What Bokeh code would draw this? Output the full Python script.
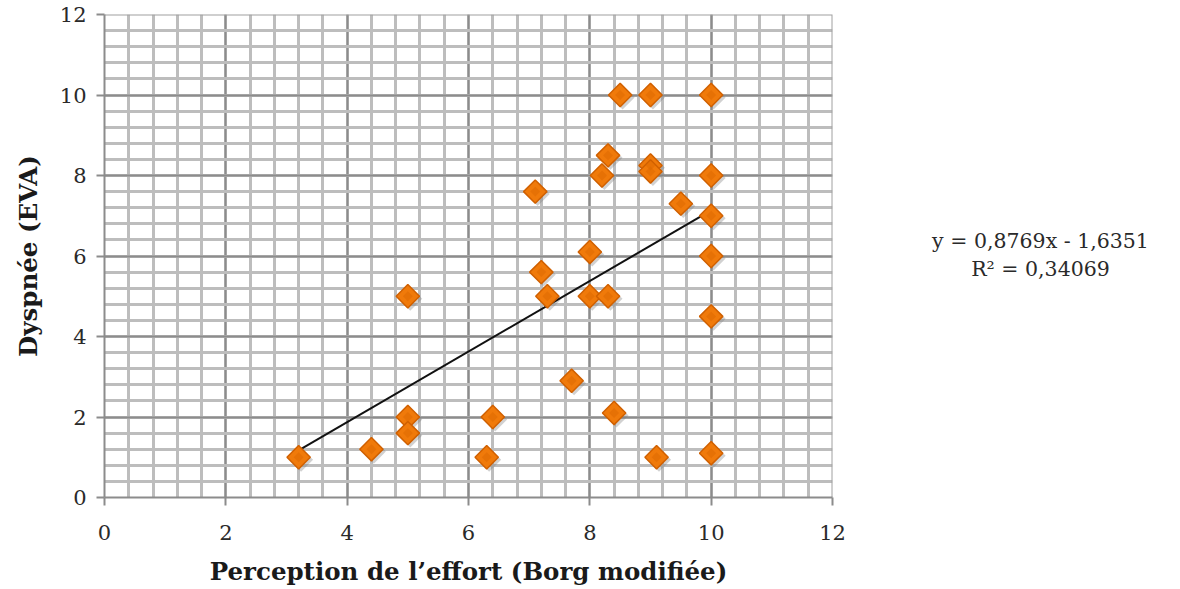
from bokeh.plotting import figure
from bokeh.models import Range1d, SingleIntervalTicker, ColumnDataSource
from bokeh.layouts import row
from bokeh.embed import file_html
from bokeh.resources import INLINE
from bokeh.transform import dodge
from bokeh.core.properties import value
import numpy as np

# Data
borg = [3.2, 4.4, 5.0, 5.0, 5.0, 6.3, 6.4, 7.1, 7.2, 7.3, 7.7, 8.0, 8.0, 8.2, 8.3,
        8.3, 8.4, 8.5, 9.0, 9.0, 9.0, 9.1, 9.5, 10.0, 10.0, 10.0, 10.0, 10.0, 10.0]
eva = [1.0, 1.2, 5.0, 2.0, 1.6, 1.0, 2.0, 7.6, 5.6, 5.0, 2.9, 6.1, 5.0, 8.0, 8.5,
       5.0, 2.1, 10.0, 10.0, 8.25, 8.1, 1.0, 7.3, 10.0, 8.0, 7.0, 6.0, 4.5, 1.1]

slope = 0.8769
intercept = -1.6351
eq_lines = ["y = 0,8769x - 1,6351", "R² = 0,34069"]

x_title = "Perception de l\u2019effort (Borg modifiée)"
y_title = "Dyspnée (EVA)"

FONT = "DejaVu Serif"
H = 588
TOP, BOTTOM = 14, 86

p = figure(width=852, height=H, output_backend="svg", toolbar_location=None,
           x_range=Range1d(0, 12), y_range=Range1d(0, 12),
           min_border_left=104, min_border_right=20, min_border_top=TOP,
           min_border_bottom=BOTTOM)
p.outline_line_color = None
p.background_fill_color = "white"

for ax in (p.xaxis[0], p.yaxis[0]):
    ax.ticker = SingleIntervalTicker(interval=2, num_minor_ticks=5)
    ax.axis_line_color = "#8c8c8c"
    ax.axis_line_width = 2
    ax.major_tick_line_color = "#8c8c8c"
    ax.major_tick_line_width = 2
    ax.major_tick_out = 8
    ax.major_tick_in = 0
    ax.minor_tick_line_color = None
    ax.major_label_text_font = FONT
    ax.major_label_text_font_size = "21px"
    ax.major_label_text_color = "#2a2a2a"
    ax.axis_label_text_font = FONT
    ax.axis_label_text_font_style = "bold"
    ax.axis_label_text_font_size = "24.5px"
    ax.axis_label_text_color = "#1a1a1a"

p.xaxis.axis_label = x_title
p.yaxis.axis_label = y_title
p.xaxis.major_label_standoff = 19
p.yaxis.major_label_standoff = 10
p.xaxis.axis_label_standoff = 14
p.yaxis.axis_label_standoff = 14

for g in (p.xgrid[0], p.ygrid[0]):
    g.ticker = SingleIntervalTicker(interval=2, num_minor_ticks=5)
    g.grid_line_color = "#8c8c8c"
    g.grid_line_width = 2
    g.minor_grid_line_color = "#bdbdbd"
    g.minor_grid_line_width = 3

# frame border on the top/right (grid at 12)
p.line(x=[0, 12, 12], y=[12, 12, 0], line_color="#a0a0a0", line_width=2)

src = ColumnDataSource(dict(x=borg, y=eva))

# soft shadow
p.scatter(x=dodge("x", 0.04, range=p.x_range), y=dodge("y", -0.06, range=p.y_range),
          source=src, marker="square", size=17, angle=np.pi / 4,
          fill_color="#7a7a7a", fill_alpha=0.35, line_color=None)

# trend line
xs = np.array([min(borg), max(borg)])
p.line(x=xs, y=slope * xs + intercept, line_color="#111111", line_width=2)

p.scatter(x="x", y="y", source=src, marker="square", size=16.5, angle=np.pi / 4,
          fill_color="#F07A0A", line_color="#D06000", line_width=1.5)
p.scatter(x="x", y="y", source=src, marker="square", size=7, angle=np.pi / 4,
          fill_color="#D96500", fill_alpha=0.45, line_color=None)

# side panel with the regression equation
q = figure(width=320, height=H, output_backend="svg", toolbar_location=None,
           x_range=Range1d(0, 320), y_range=Range1d(0, 12),
           min_border_left=0, min_border_right=0, min_border_top=TOP,
           min_border_bottom=BOTTOM)
q.axis.visible = False
q.grid.visible = False
q.outline_line_color = None
q.text(x=[188, 188], y=[6.38, 5.68], text=eq_lines, text_align="center",
       text_baseline="middle", text_font=value(FONT), text_font_size="20.5px",
       text_color="#2a2a2a")

layout = row(p, q)
open("out.html", "w").write(file_html(layout, INLINE))
